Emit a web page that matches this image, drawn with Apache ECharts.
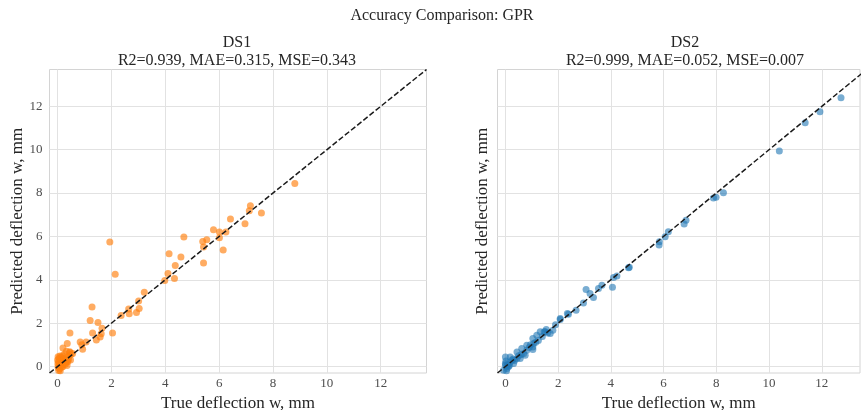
<!DOCTYPE html>
<html lang="en">

<head>
  <meta charset="utf-8">
  <title>Accuracy Comparison: GPR</title>
  <style>
    html, body { margin: 0; padding: 0; background: #fff; }
    .box { width: 862px; height: 410px; }
  </style>
</head>

<body>
  <script type="text/javascript" src="https://cdn.jsdelivr.net/npm/echarts@6/dist/echarts.min.js"></script>

  <div class="box"></div>
  <script>
    // tick labels shared by both panels
    var tickValues = [0, 2, 4, 6, 8, 10, 12];
    var leftLimits = [-0.3, 13.7];
    var rightXLimits = [-0.3, 13.45];
    var yLimits = [-0.3, 13.7];

    // DS1: true vs predicted deflection (mm)
    var ds1True = [0.02, 0.06, 0.09, 0.13, 0.18, 0.23, 0.03, 0.06, 0.1, 0.15, 0.2, 0.26, 0.29, 0.31, 0.36, 0.41,
      0.02, 0.05, 0.08, 0.12, 0.16, 0.19, 0.22, 0.3, 0.38, 0.43, 0.46, 0.5, 0.56, 0.04, 0.1, 0.2, 0.35, 0.48,
      0.26, 0.33, 0.0, 0.01,
      0.2, 0.36, 0.46, 0.45, 0.84, 1.06, 0.93, 0.9,
      1.28, 1.21, 1.5, 1.65, 1.3, 1.62, 1.58, 1.44, 2.04, 1.94, 2.14,
      2.36, 2.64, 2.66, 2.93, 3.03, 3.01, 3.22,
      3.98, 4.1, 4.34, 4.37, 4.14, 4.58, 4.69,
      5.42, 5.42, 5.39, 5.54, 5.79, 6.01, 6.25, 6.01, 6.15, 6.42,
      6.96, 7.12, 7.16, 7.57, 8.81];
    var ds1Pred = [0.45, 0.38, 0.48, 0.42, 0.49, 0.36, 0.22, 0.1, 0.26, 0.15, 0.3, 0.21, 0.1, 0.4, 0.27, 0.34,
      -0.05, 0.02, -0.1, 0.05, -0.02, 0.08, 0.13, 0.18, 0.22, 0.5, 0.64, 0.55, 0.6, -0.18, -0.2, 0.0, 0.05, 0.3,
      0.58, 0.7, 0.3, 0.12,
      0.85, 1.06, 1.55, 0.68, 1.13, 1.13, 0.8, 1.0,
      2.75, 2.12, 2.03, 1.77, 1.55, 1.51, 1.36, 1.22, 1.55, 5.74, 4.25,
      2.35, 2.65, 2.43, 2.49, 2.68, 3.02, 3.43,
      3.97, 4.29, 4.06, 4.66, 5.2, 5.05, 5.97,
      4.77, 5.51, 5.77, 5.85, 6.31, 6.2, 6.2, 5.94, 5.37, 6.8,
      6.59, 7.18, 7.42, 7.08, 8.44];

    // DS2: true vs predicted deflection (mm)
    var ds2True = [12.73, 11.93, 11.37, 10.39, 8.27, 7.99, 7.89, 6.85, 6.78, 6.18, 6.06, 5.84, 5.83,
      4.7, 4.67, 4.1, 4.23, 4.06, 3.66, 3.53, 3.06, 3.34, 3.21, 2.96, 2.68, 2.35, 2.39, 2.08, 2.08,
      1.8, 1.55, 1.47, 1.32, 1.51, 1.7, 1.19, 1.04, 1.07, 1.04, 0.81, 1.04, 0.62, 0.81, 0.69, 0.75,
      0.44, 0.44, 0.56, 0.18, 0.0, 0.18, 0.31, 0.12, 0.0, 0.05, -0.07, 0.06, 0.0,
      0.25, 0.35, 0.5, 0.6, 0.9, 0.95, 1.15, 1.25, 1.4, 0.02, 0.1, 0.04, 0.15, 1.6, 1.9, 0.3];
    var ds2Pred = [12.4, 11.75, 11.24, 9.94, 8.01, 7.81, 7.77, 6.75, 6.57, 6.21, 5.98, 5.75, 5.6,
      4.58, 4.55, 4.11, 4.17, 3.65, 3.75, 3.6, 3.55, 3.18, 3.37, 2.93, 2.6, 2.45, 2.41, 2.17, 2.21,
      1.67, 1.71, 1.6, 1.6, 1.6, 1.52, 1.44, 1.29, 1.06, 0.9, 0.98, 0.78, 0.83, 0.75, 0.6, 0.52,
      0.67, 0.37, 0.37, 0.44, 0.44, 0.21, 0.14, 0.0, 0.14, 0.0, -0.17, -0.09, 0.06,
      0.3, 0.28, 0.5, 0.55, 0.88, 1.0, 1.12, 1.2, 1.38, 0.25, 0.1, -0.2, 0.05, 1.55, 1.92, 0.35];

    var box = document.querySelector('.box');
    var myChart = echarts.init(box);

    var serif = 'Liberation Serif';

    function pairs(xs, ys) {
      var out = [];
      for (var i = 0; i < xs.length; i++) out.push([xs[i], ys[i]]);
      return out;
    }

    function makeX(idx, lim) {
      return {
        gridIndex: idx, type: 'value', min: lim[0], max: lim[1],
        name: 'True deflection w, mm', nameLocation: 'middle', nameGap: 12,
        nameTextStyle: { fontFamily: serif, fontSize: 17, color: '#262626' },
        axisLine: { show: false }, axisTick: { show: false, customValues: tickValues },
        axisLabel: { customValues: tickValues, fontFamily: serif, fontSize: 13, color: '#4d4d4d', margin: 4 },
        splitLine: { show: true, lineStyle: { color: '#e2e2e2', width: 1 } }
      };
    }

    function makeY(idx, showLabels, gap) {
      return {
        gridIndex: idx, type: 'value', min: yLimits[0], max: yLimits[1],
        name: 'Predicted deflection w, mm', nameLocation: 'middle', nameGap: gap,
        nameTextStyle: { fontFamily: serif, fontSize: 17, color: '#262626' },
        axisLine: { show: false }, axisTick: { show: false, customValues: tickValues },
        axisLabel: { show: showLabels, customValues: tickValues, fontFamily: serif, fontSize: 13, color: '#4d4d4d', margin: 7 },
        splitLine: { show: true, lineStyle: { color: '#e2e2e2', width: 1 } }
      };
    }

    var option = {
      animation: false,
      backgroundColor: '#fff',
      graphic: [
        { type: 'text', x: 442, y: 16, style: { text: 'Accuracy Comparison: GPR', font: '16px "Liberation Serif"', fill: '#262626', textAlign: 'center', textVerticalAlign: 'middle' } },
        { type: 'text', x: 237, y: 43, style: { text: 'DS1', font: '16px "Liberation Serif"', fill: '#262626', textAlign: 'center', textVerticalAlign: 'middle' } },
        { type: 'text', x: 237, y: 61, style: { text: 'R2=0.939, MAE=0.315, MSE=0.343', font: '16px "Liberation Serif"', fill: '#262626', textAlign: 'center', textVerticalAlign: 'middle' } },
        { type: 'text', x: 685, y: 43, style: { text: 'DS2', font: '16px "Liberation Serif"', fill: '#262626', textAlign: 'center', textVerticalAlign: 'middle' } },
        { type: 'text', x: 685, y: 61, style: { text: 'R2=0.999, MAE=0.052, MSE=0.007', font: '16px "Liberation Serif"', fill: '#262626', textAlign: 'center', textVerticalAlign: 'middle' } }
      ],
      grid: [
        { left: 49.5, top: 69.5, width: 377, height: 303.5, outerBoundsMode: 'none', show: true, borderColor: '#d4d4d4', borderWidth: 1, backgroundColor: '#fff' },
        { left: 497.5, top: 69.5, width: 362.5, height: 303.5, outerBoundsMode: 'none', show: true, borderColor: '#d4d4d4', borderWidth: 1, backgroundColor: '#fff' }
      ],
      xAxis: [makeX(0, leftLimits), makeX(1, rightXLimits)],
      yAxis: [makeY(0, true, 23), makeY(1, false, 6)],
      series: [
        {
          type: 'scatter', xAxisIndex: 0, yAxisIndex: 0, data: pairs(ds1True, ds1Pred),
          symbolSize: 7, itemStyle: { color: '#ff7f0e', opacity: 0.65 }, z: 2
        },
        {
          type: 'line', xAxisIndex: 0, yAxisIndex: 0, data: [[leftLimits[0], leftLimits[0]], [leftLimits[1], leftLimits[1]]],
          symbol: 'none', clip: true, lineStyle: { color: '#1a1a1a', width: 1.5, type: [5.5, 2.4] }, z: 3
        },
        {
          type: 'scatter', xAxisIndex: 1, yAxisIndex: 1, data: pairs(ds2True, ds2Pred),
          symbolSize: 7, itemStyle: { color: '#1f77b4', opacity: 0.6 }, z: 2
        },
        {
          type: 'line', xAxisIndex: 1, yAxisIndex: 1, data: [[yLimits[0], yLimits[0]], [yLimits[1], yLimits[1]]],
          symbol: 'none', clip: true, lineStyle: { color: '#1a1a1a', width: 1.5, type: [5.5, 2.4] }, z: 3
        }
      ]
    };
    myChart.setOption(option);
  </script>
</body>

</html>
